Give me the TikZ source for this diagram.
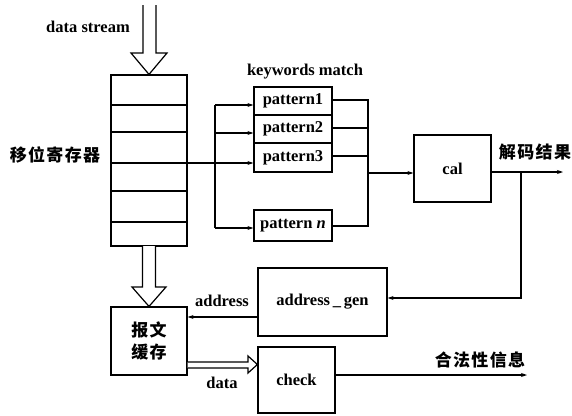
\documentclass[tikz,border=0pt]{standalone}
\usepackage{fontspec}
\setmainfont{Liberation Serif}
\newfontfamily\cjk{Noto Sans CJK SC}[LetterSpace=8]
\usetikzlibrary{arrows.meta}
\begin{document}
\begin{tikzpicture}[x=1pt,y=-1pt,
  line width=1.2pt,
  box/.style={draw,inner sep=0pt,minimum width=#1},
  lbl/.style={font=\fontsize{16.5}{18}\selectfont\bfseries,inner sep=0pt},
  zh/.style={font=\cjk\fontsize{17}{19}\selectfont\bfseries,inner sep=0pt},
  arr/.style={-{Stealth[length=6pt,width=4pt]}},
  hollow/.style={fill=white,line join=miter}]
\useasboundingbox (0,0) rectangle (572,415);

% shift register: six cells
\node[box=76pt,minimum height=30pt] (r1) at (149,90) {};
\node[box=76pt,minimum height=27pt] (r2) at (149,118.5) {};
\node[box=76pt,minimum height=31pt] (r3) at (149,147.5) {};
\node[box=76pt,minimum height=28pt] (r4) at (149,177) {};
\node[box=76pt,minimum height=31pt] (r5) at (149,206.5) {};
\node[box=76pt,minimum height=24pt] (r6) at (149,234) {};
\node[zh] (regl) at (55,155) {移位寄存器};

% incoming data stream (hollow arrow)
\node[lbl] (dsl) at (88,27) {data stream};
\draw[hollow] (143,5) -- (143,53) -- (131,53) -- (r1.north) -- (167,53) -- (156,53) -- (156,5);

% keyword patterns
\node[lbl] (kwl) at (305,72) {keywords match};
\node[box=78pt,minimum height=28pt] (p1) at (293,101) {};
\node[box=78pt,minimum height=28pt] (p2) at (293,129) {};
\node[box=78pt,minimum height=29pt] (p3) at (293,157.5) {};
\node[box=78pt,minimum height=31pt] (pn) at (293,225.5) {};
\node[lbl] at (p1) {pattern1};
\node[lbl] at (p2) {pattern2};
\node[lbl] at (p3) {pattern3};
\node[lbl] at (pn) {pattern \textit{n}};

% fan-out bus from the register
\coordinate (bus1) at (215,105);
\coordinate (busn) at (215,228);
\coordinate (tap) at (111,163);
\draw (tap) -- (215,163);
\draw (bus1) -- (busn);
\draw[arr] (bus1) -- (p1.west |- bus1);
\draw[arr] (215,133) -- (p2.west |- 0,133);
\draw[arr] (215,163) -- (p3.west |- 0,163);
\draw[arr] (busn) -- (pn.west |- busn);

% merge bus to cal
\node[box=77pt,minimum height=67pt] (cal) at (452.5,168.5) {};
\node[lbl] at (cal) {cal};
\draw (p1.east |- 0,100) -- (368,100) -- (368,226) -- (pn.east |- 0,226);
\draw (p2.east |- 0,128) -- (368,128);
\draw (p3.east |- 0,156) -- (368,156);
\draw[arr] (368,173) -- (cal.west |- 0,173);

% decode result output
\coordinate (decOut) at (563,172);
\coordinate (fb) at (521,172);
\draw[arr] (cal.east |- decOut) -- (decOut);
\node[zh] (decl) at (535,152) {解码结果};

% address generator
\node[box=129pt,minimum height=68pt] (ag) at (322.5,302) {};
\node[lbl] at (ag) {address\,\_\,gen};
\draw[arr] (fb) -- (521,298) -- (ag.east |- 0,298);

% packet buffer
\node[box=76pt,minimum height=68pt,zh,align=center] (buf) at (149,341) {报文\\[3pt]缓存};
\draw[arr] (ag.west |- 0,317) -- (buf.east |- 0,317);
\node[lbl] (addrl) at (222,301) {address};

% register to buffer (hollow arrow)
\draw[hollow] (142.5,246) -- (142.5,287) -- (132,287) -- (buf.north) -- (166,287) -- (155.5,287) -- (155.5,246);

% check
\node[box=77pt,minimum height=66pt] (chk) at (296.5,380) {};
\node[lbl] at (chk) {check};
\draw[hollow] (buf.east |- 0,362) -- (248,362) -- (248,356) -- (chk.west |- 0,364.5) -- (248,373) -- (248,368) -- (buf.east |- 0,368);
\node[lbl] (datal) at (222,383) {data};
\coordinate (legOut) at (527,375);
\draw[arr] (chk.east |- legOut) -- (legOut);
\node[zh] (legl) at (480,360) {合法性信息};
\end{tikzpicture}
\end{document}
